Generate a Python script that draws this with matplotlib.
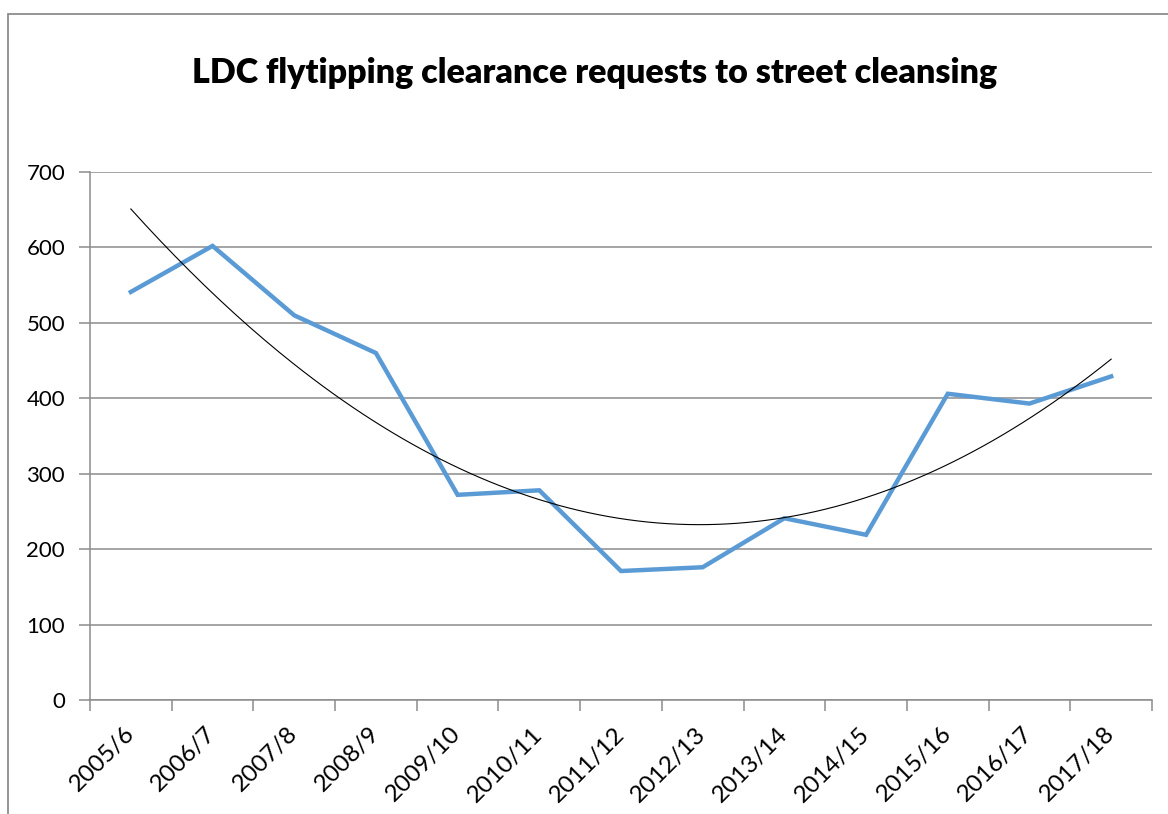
import numpy as np
import matplotlib
matplotlib.use("Agg")
import matplotlib.pyplot as plt
import matplotlib.transforms as mtransforms
from matplotlib.patches import Rectangle

years = ["2005/6", "2006/7", "2007/8", "2008/9", "2009/10", "2010/11", "2011/12",
         "2012/13", "2013/14", "2014/15", "2015/16", "2016/17", "2017/18"]
requests = [541, 602, 510, 460, 272, 278, 171, 176, 241, 219, 406, 393, 429]

W, H = 1168, 814
plt.rcParams["font.family"] = ["Lato", "DejaVu Sans"]

fig = plt.figure(figsize=(W / 100, H / 100), dpi=100)
ax = fig.add_axes([90 / W, 1 - 700 / H, (1152 - 90) / W, (700 - 172) / H])

x = np.arange(len(years))
ax.plot(x, requests, color="#5B9BD5", linewidth=3.2, solid_joinstyle="miter", zorder=3)

# 2nd order polynomial trendline, as in the spreadsheet
coef = np.polyfit(x, requests, 2)
xs = np.linspace(x[0], x[-1], 200)
ax.plot(xs, np.polyval(coef, xs), color="black", linewidth=0.8, zorder=4)

ax.set_xlim(-0.5, len(years) - 0.5)
ax.set_ylim(0, 700)
ax.set_yticks(range(0, 701, 100))
ax.yaxis.grid(True, color="#8c8c8c", linewidth=1.1)
ax.set_axisbelow(True)

ax.set_xticks(np.arange(-0.5, len(years), 1.0))
ax.set_xticklabels([])
ax.set_xticks(x, minor=True)
ax.set_xticklabels(years, minor=True, rotation=45, ha="right", va="center",
                   rotation_mode="anchor", fontsize=17.5)
shift = mtransforms.ScaledTranslation(4 / 100, 0, fig.dpi_scale_trans)
for lab in ax.get_xticklabels(minor=True):
    lab.set_transform(lab.get_transform() + shift)
ax.tick_params(axis="x", which="minor", length=0, pad=22)
ax.tick_params(axis="x", which="major", length=8, color="#8c8c8c", width=1.1)
ax.tick_params(axis="y", length=8, color="#8c8c8c", width=1.1, labelsize=16, pad=10)

for side in ["top", "right"]:
    ax.spines[side].set_visible(False)
for side in ["left", "bottom"]:
    ax.spines[side].set_color("#8c8c8c")
    ax.spines[side].set_linewidth(1.1)

fig.text(595 / W, 1 - 73 / H, "LDC flytipping clearance requests to street cleansing",
         ha="center", va="center", fontsize=24.5, fontweight="heavy")

# outer chart border (clipped at right and bottom in the source)
fig.patches.append(Rectangle((8 / W, -0.1), 1.2, 1 - 14 / H + 0.1, transform=fig.transFigure,
                             fill=False, edgecolor="#8c8c8c", linewidth=1.3))

fig.savefig("out.png", dpi=100)
